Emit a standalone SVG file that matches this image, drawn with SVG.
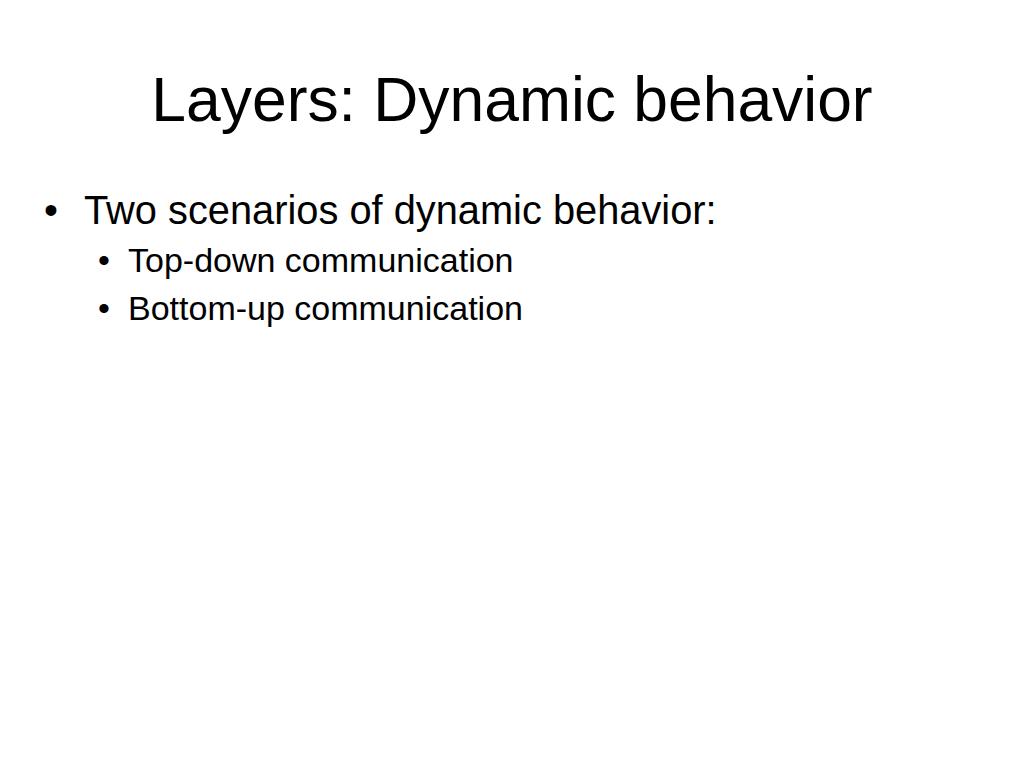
<svg xmlns="http://www.w3.org/2000/svg" width="1024" height="768" viewBox="0 0 1024 768">
<style>
text{font-family:"Liberation Sans",Arial,sans-serif;fill:#000}
.t{font-size:62.4px}
.b1{font-size:39.8px}
.b2{font-size:34px}
</style>
<rect width="1024" height="768" fill="#fff"/>
<g id="title"><text class="t" x="512" y="121" text-anchor="middle">Layers: Dynamic behavior</text></g>
<g id="bullets">
<text class="b1" x="44" y="224">•</text>
<text class="b1" x="84" y="224">Two scenarios of dynamic behavior:</text>
<text class="b2" x="98" y="272">•</text>
<text class="b2" x="128" y="272">Top-down communication</text>
<text class="b2" x="98" y="320">•</text>
<text class="b2" x="128" y="320">Bottom-up communication</text>
</g>
</svg>
